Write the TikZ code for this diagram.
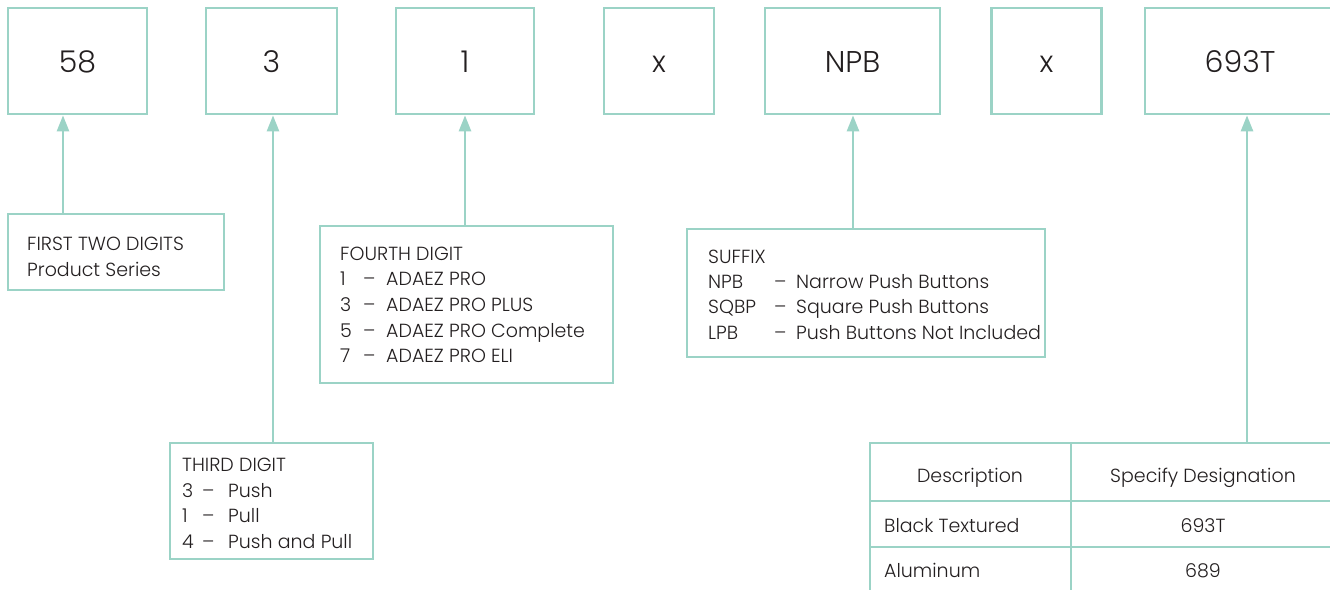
\documentclass[tikz,border=0pt]{standalone}
\usepackage{fontspec}
\IfFontExistsTF{Poppins Light}{\setmainfont{Poppins Light}}{\setmainfont{Poppins}}
\usetikzlibrary{arrows.meta}
\definecolor{mint}{RGB}{155,211,198}
\definecolor{ink}{RGB}{35,31,32}
\newcommand\txtline[4]{\node[txt,anchor=base west] (#1) at (#2,#3) {#4};}
\begin{document}
\begin{tikzpicture}[x=1pt,y=-1pt,
  box/.style={draw=mint,line width=2.7pt,inner sep=0pt},
  big/.style={font=\fontsize{30}{36}\selectfont,text=ink,text height=22pt,text depth=0pt},
  txt/.style={font=\fontsize{19}{24}\selectfont,text=ink,inner sep=0pt},
  arr/.style={draw=mint,line width=2.6pt,-{Triangle[width=12pt,length=16pt]}},
  gridline/.style={draw=mint,line width=2pt}]
\useasboundingbox (0,0) rectangle (1330,589);
% top boxes
\node[box,big,minimum width=139pt,minimum height=106pt] (b58) at (77.5,61) {58};
\node[box,big,minimum width=131pt,minimum height=106pt] (b3) at (271.5,61) {3};
\node[box,big,minimum width=138pt,minimum height=106pt] (b1) at (465,61) {1};
\node[box,big,minimum width=110pt,minimum height=106pt] (bx1) at (659,61) {x};
\node[box,big,minimum width=175pt,minimum height=106pt] (bnpb) at (852.5,61) {NPB};
\node[box,big,minimum width=110pt,minimum height=106pt] (bx2) at (1046.5,61) {x};
\node[box,big,minimum width=190pt,minimum height=106pt] (b693) at (1240,61) {693T};
% label boxes
\node[box,minimum width=216pt,minimum height=76pt] (lfirst) at (116,252) {};
\node[box,minimum width=293pt,minimum height=157pt] (lfourth) at (466.5,304.5) {};
\node[box,minimum width=203pt,minimum height=116pt] (lthird) at (271.5,501) {};
\node[box,minimum width=358pt,minimum height=128pt] (lsuffix) at (866,293) {};
% arrows
\coordinate (a1) at (63,0);
\coordinate (a2) at (273,0);
\coordinate (a3) at (465,0);
\coordinate (a4) at (853,0);
\coordinate (ttop) at (1247,443);
\draw[arr] (a1 |- lfirst.north) -- (a1 |- b58.south);
\draw[arr] (a2 |- lthird.north) -- (a2 |- b3.south);
\draw[arr] (a3 |- lfourth.north) -- (a3 |- b1.south);
\draw[arr] (a4 |- lsuffix.north) -- (a4 |- bnpb.south);
\draw[arr] (ttop) -- (ttop |- b693.south);
% first two digits
\txtline{f1}{27}{250}{FIRST TWO DIGITS}
\txtline{f2}{27}{276}{Product Series}
% fourth digit
\txtline{q0}{340}{260}{FOURTH DIGIT}
\txtline{q1n}{340}{285}{1}\txtline{q1d}{363}{285}{–}\txtline{q1t}{386}{285}{ADAEZ PRO}
\txtline{q2n}{340}{311}{3}\txtline{q2d}{363}{311}{–}\txtline{q2t}{386}{311}{ADAEZ PRO PLUS}
\txtline{q3n}{340}{337}{5}\txtline{q3d}{363}{337}{–}\txtline{q3t}{386}{337}{ADAEZ PRO Complete}
\txtline{q4n}{340}{362}{7}\txtline{q4d}{363}{362}{–}\txtline{q4t}{386}{362}{ADAEZ PRO ELI}
% third digit
\txtline{t0}{182}{471}{THIRD DIGIT}
\txtline{t1n}{182}{497}{3}\txtline{t1d}{202}{497}{–}\txtline{t1t}{228}{497}{Push}
\txtline{t2n}{182}{522}{1}\txtline{t2d}{202}{522}{–}\txtline{t2t}{228}{522}{Pull}
\txtline{t3n}{182}{548}{4}\txtline{t3d}{202}{548}{–}\txtline{t3t}{228}{548}{Push and Pull}
% suffix
\txtline{s0}{708}{263}{SUFFIX}
\txtline{s1n}{708}{288}{NPB}\txtline{s1d}{774}{288}{–}\txtline{s1t}{796}{288}{Narrow Push Buttons}
\txtline{s2n}{708}{313}{SQBP}\txtline{s2d}{774}{313}{–}\txtline{s2t}{796}{313}{Square Push Buttons}
\txtline{s3n}{708}{339}{LPB}\txtline{s3d}{774}{339}{–}\txtline{s3t}{796}{339}{Push Buttons Not Included}
% table
\draw[gridline,line width=2.7pt] (870,600) -- (870,443) -- (1340,443);
\draw[gridline] (1071,443) -- (1071,600);
\draw[gridline] (870,501) -- (1340,501);
\draw[gridline] (870,547) -- (1340,547);
\node[txt,anchor=base] (h1) at (970,482) {Description};
\node[txt,anchor=base] (h2) at (1203,482) {Specify Designation};
\txtline{r1a}{884}{532}{Black Textured}
\node[txt,anchor=base] (r1b) at (1203,532) {693T};
\txtline{r2a}{884}{577}{Aluminum}
\node[txt,anchor=base] (r2b) at (1203,577) {689};
\end{tikzpicture}
\end{document}
